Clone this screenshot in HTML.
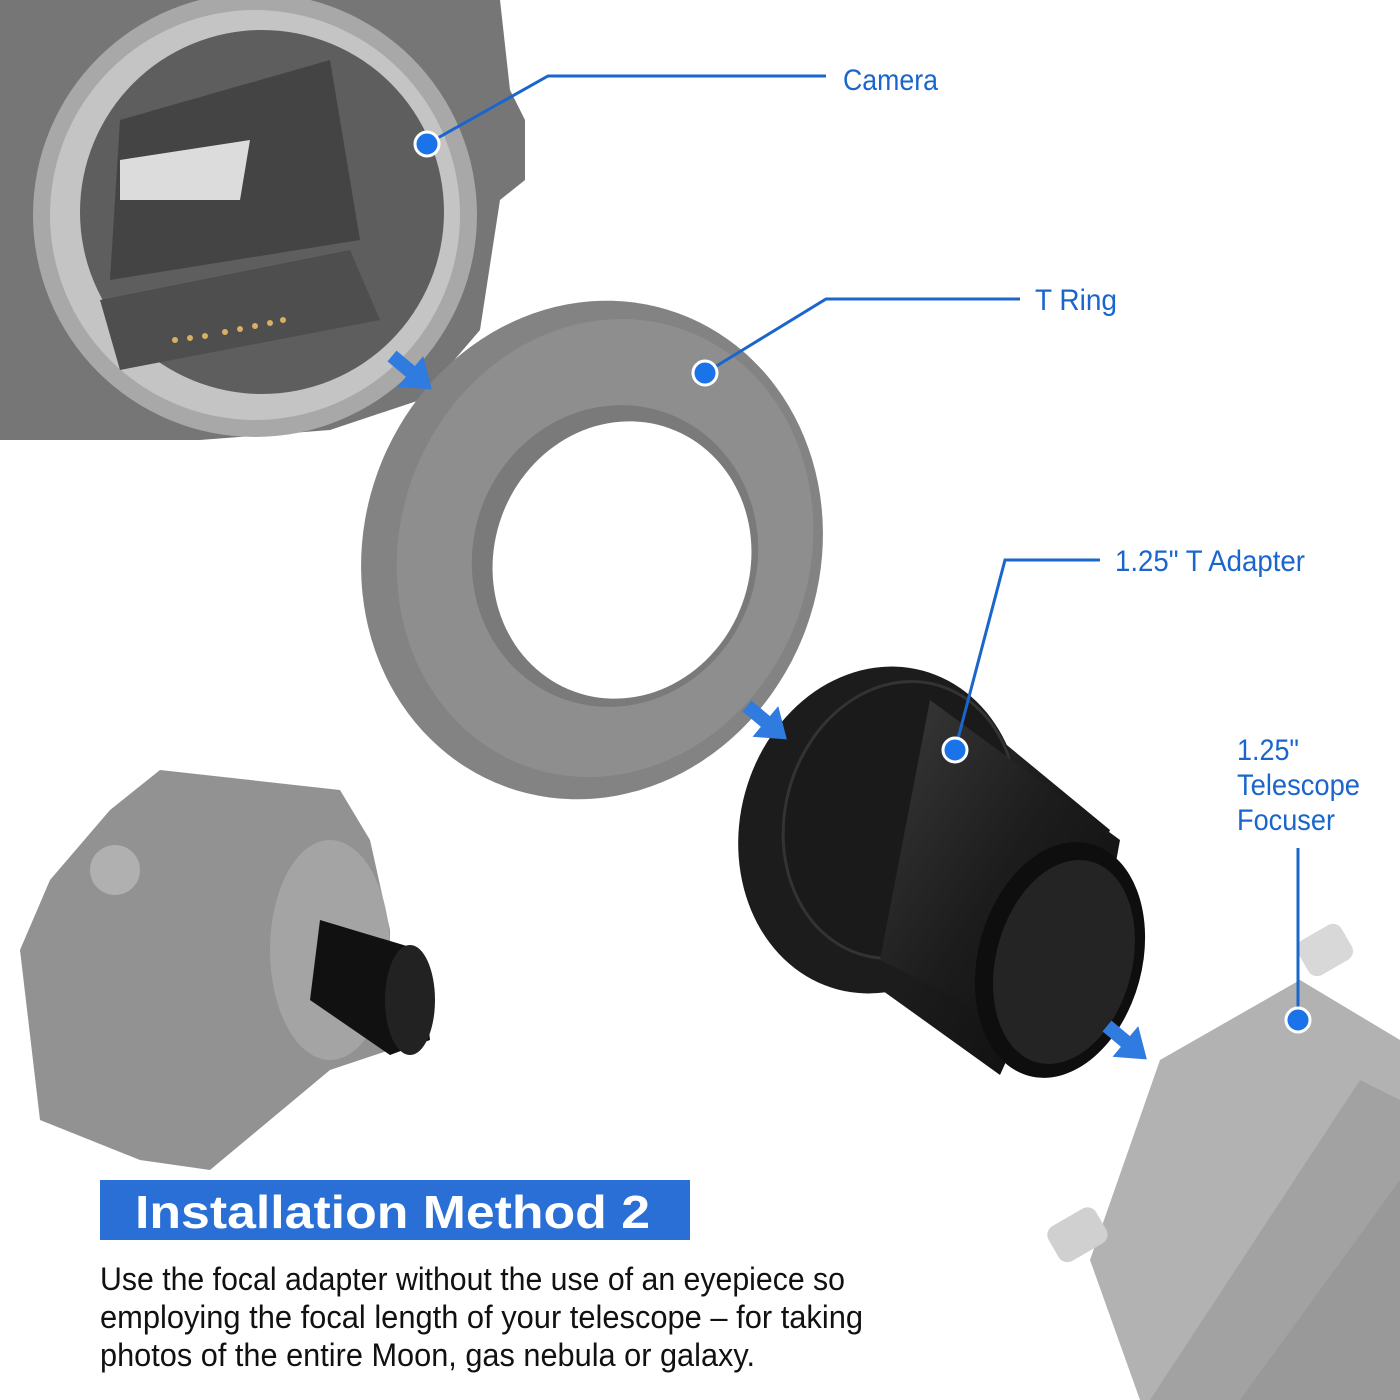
<!DOCTYPE html>
<html><head><meta charset="utf-8"><style>
html,body{margin:0;padding:0;background:#fff;}
svg{display:block;}
</style></head><body>
<svg width="1400" height="1400" viewBox="0 0 1400 1400" xmlns="http://www.w3.org/2000/svg">
<defs>
<linearGradient id="blk" x1="0" y1="0" x2="1" y2="1"><stop offset="0" stop-color="#3a3a3a"/><stop offset="0.5" stop-color="#1c1c1c"/><stop offset="1" stop-color="#0c0c0c"/></linearGradient>
<g id="arr"><rect x="0" y="-7" width="28" height="14" fill="#2f7be0"/><polygon points="24,-20 52,0 24,20" fill="#2f7be0"/></g>
</defs>
<!-- Camera body top-left -->
<path d="M0,0 L500,0 L510,90 L525,120 L525,180 L500,200 L480,330 L420,400 L330,430 L200,440 L0,440 Z" fill="#767676"/>
<circle cx="255" cy="215" r="222" fill="#a8a8a8"/>
<circle cx="255" cy="215" r="205" fill="#c4c4c4"/>
<circle cx="262" cy="212" r="182" fill="#5e5e5e"/>
<path d="M120,120 L330,60 L360,240 L110,280 Z" fill="#444"/>
<path d="M120,160 L250,140 L240,200 L120,200 Z" fill="#dcdcdc"/>
<path d="M100,300 L350,250 L380,320 L120,370 Z" fill="#4e4e4e"/>
<g fill="#d8b060"><circle cx="175" cy="340" r="3"/><circle cx="190" cy="338" r="3"/><circle cx="205" cy="336" r="3"/><circle cx="225" cy="332" r="3"/><circle cx="240" cy="329" r="3"/><circle cx="255" cy="326" r="3"/><circle cx="270" cy="323" r="3"/><circle cx="283" cy="320" r="3"/></g>
<!-- T ring -->
<ellipse cx="592" cy="550" rx="228" ry="252" transform="rotate(20 592 550)" fill="#838383"/>
<ellipse cx="605" cy="548" rx="205" ry="232" transform="rotate(20 605 548)" fill="#8e8e8e"/>
<ellipse cx="615" cy="556" rx="142" ry="152" transform="rotate(20 615 556)" fill="#7a7a7a"/>
<ellipse cx="622" cy="560" rx="128" ry="140" transform="rotate(20 622 560)" fill="#fff"/>
<!-- Black adapter -->
<path d="M940,690 L1110,830 L1000,1075 L840,960 Z" fill="url(#blk)"/>
<ellipse cx="880" cy="830" rx="140" ry="165" transform="rotate(15 880 830)" fill="#1c1c1c"/>
<ellipse cx="900" cy="820" rx="115" ry="140" transform="rotate(15 900 820)" fill="#1a1a1a" stroke="#333" stroke-width="3"/>
<path d="M930,700 L1120,840 L1080,1060 L880,960 Z" fill="url(#blk)"/>
<ellipse cx="1060" cy="960" rx="82" ry="120" transform="rotate(15 1060 960)" fill="#0e0e0e"/>
<ellipse cx="1064" cy="962" rx="68" ry="104" transform="rotate(15 1064 962)" fill="#242424"/>
<!-- Focuser bottom-right -->
<path d="M1160,1060 L1300,980 L1400,1040 L1400,1400 L1140,1400 L1090,1260 Z" fill="#b2b2b2"/>
<path d="M1150,1400 L1360,1080 L1400,1100 L1400,1400 Z" fill="#a2a2a2"/>
<path d="M1240,1400 L1400,1180 L1400,1400 Z" fill="#999"/>
<rect x="1300" y="930" width="50" height="40" rx="10" fill="#d8d8d8" transform="rotate(-30 1325 950)"/>
<rect x="1050" y="1215" width="55" height="40" rx="10" fill="#d0d0d0" transform="rotate(-30 1077 1235)"/>
<!-- Small camera -->
<path d="M110,810 L160,770 L340,790 L370,840 L390,930 L390,1050 L330,1070 L210,1170 L140,1160 L40,1120 L20,950 L50,880 Z" fill="#929292"/>
<circle cx="115" cy="870" r="25" fill="#b0b0b0"/>
<ellipse cx="330" cy="950" rx="60" ry="110" fill="#a4a4a4"/>
<path d="M320,920 L420,950 L430,1040 L390,1055 L310,1000 Z" fill="#111"/>
<ellipse cx="410" cy="1000" rx="25" ry="55" fill="#222"/>
<!-- Arrows -->
<use href="#arr" transform="translate(392,356) rotate(40)"/>
<use href="#arr" transform="translate(747,706) rotate(40)"/>
<use href="#arr" transform="translate(1107,1026) rotate(40)"/>
<!-- Leader lines -->
<g stroke="#1a66cc" stroke-width="3" fill="none">
<polyline points="427,144 548,76 826,76"/>
<polyline points="705,373 826,299 1020,299"/>
<polyline points="955,750 1005,560 1100,560"/>
<line x1="1298" y1="848" x2="1298" y2="1020"/>
</g>
<g fill="#1a73e8" stroke="#fff" stroke-width="3">
<circle cx="427" cy="144" r="12"/><circle cx="705" cy="373" r="12"/><circle cx="955" cy="750" r="12"/><circle cx="1298" cy="1020" r="12"/>
</g>
<g font-family="Liberation Sans, sans-serif" font-size="30" fill="#1a66cc">
<text x="843" y="90" textLength="95" lengthAdjust="spacingAndGlyphs">Camera</text>
<text x="1035" y="310" textLength="82" lengthAdjust="spacingAndGlyphs">T Ring</text>
<text x="1115" y="571" textLength="190" lengthAdjust="spacingAndGlyphs">1.25" T Adapter</text>
<text x="1237" y="760" textLength="62" lengthAdjust="spacingAndGlyphs">1.25"</text>
<text x="1237" y="795" textLength="123" lengthAdjust="spacingAndGlyphs">Telescope</text>
<text x="1237" y="830" textLength="98" lengthAdjust="spacingAndGlyphs">Focuser</text>
</g>
<rect x="100" y="1180" width="590" height="60" fill="#2a6fd6"/>
<text x="135" y="1228" font-family="Liberation Sans, sans-serif" font-weight="bold" font-size="46" fill="#fff" textLength="515" lengthAdjust="spacingAndGlyphs">Installation Method 2</text>
<g font-family="Liberation Sans, sans-serif" font-size="32" fill="#111">
<text x="100" y="1290" textLength="745" lengthAdjust="spacingAndGlyphs">Use the focal adapter without the use of an eyepiece so</text>
<text x="100" y="1328" textLength="763" lengthAdjust="spacingAndGlyphs">employing the focal length of your telescope – for taking</text>
<text x="100" y="1366" textLength="655" lengthAdjust="spacingAndGlyphs">photos of the entire Moon, gas nebula or galaxy.</text>
</g>
</svg>
</body></html>
